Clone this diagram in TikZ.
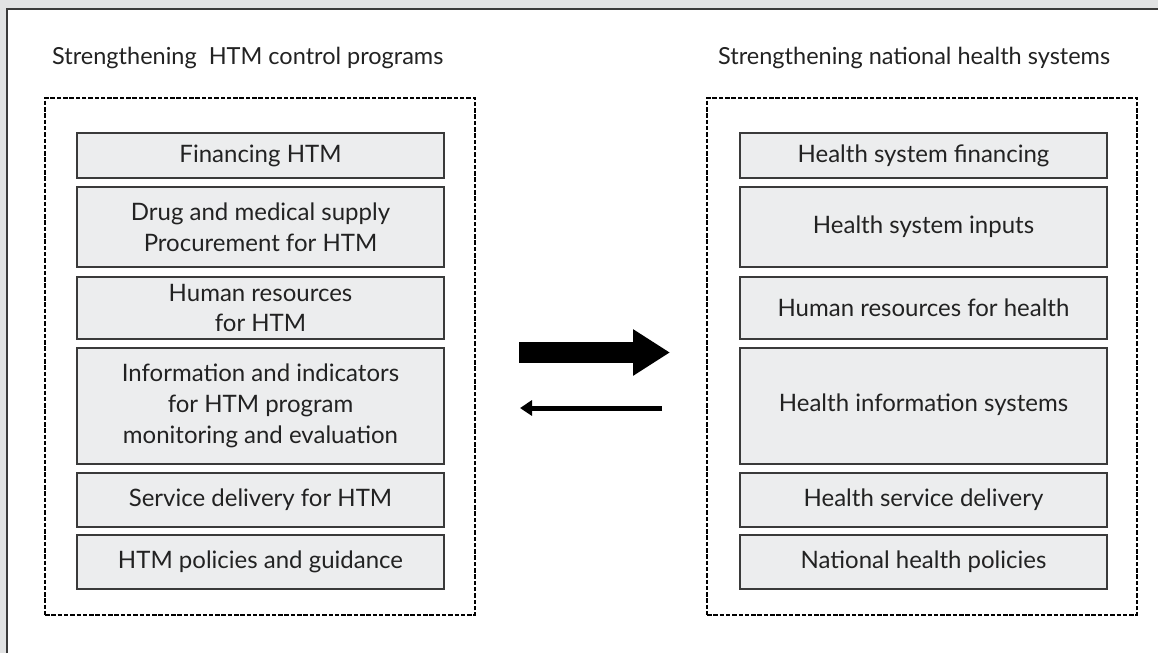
\documentclass[tikz,border=0pt]{standalone}
\usepackage{fontspec}
\setmainfont{Lato}
\usetikzlibrary{arrows.meta}
\definecolor{bandgray}{HTML}{E1E2E3}
\definecolor{boxgray}{HTML}{ECEDEE}
\definecolor{framecol}{HTML}{3A3A3A}
\definecolor{txt}{HTML}{222222}
\tikzset{
  itembox/.style={draw=framecol, line width=1.3pt, fill=boxgray, minimum width=367pt,
    inner sep=0pt, align=center, text=txt, font=\fontsize{24}{30.7}\selectfont},
  groupbox/.style={draw=black, line width=2.4pt, dash pattern=on 4.5pt off 1.8pt,
    minimum width=430pt, minimum height=517pt, inner sep=0pt},
  grouptitle/.style={anchor=base west, inner sep=0pt, text=txt, font=\fontsize{23.5}{28}\selectfont},
  bigarrow/.style={line width=21pt, -{Triangle[length=37pt,width=44pt]}},
  smallarrow/.style={line width=5pt, -{Triangle[length=12pt,width=15pt]}}
}
\begin{document}
\begin{tikzpicture}[x=1pt,y=-1pt]
\useasboundingbox (0,0) rectangle (1158,653);
\fill[bandgray] (0,0) rectangle (1158,653);
\fill[white] (7,9) rectangle (1158,653);
\draw[framecol, line width=1.5pt] (7,653) -- (7,9) -- (1158,9);

\node[grouptitle] (tl) at (52,64) {Strengthening\ \ HTM control programs};
\node[grouptitle] (tr) at (718,64) {Strengthening national health systems};

\node[groupbox] (L) at (260,356.5) {};
\node[groupbox] (R) at (922,356.5) {};

\node[itembox, minimum height=45pt]  (l1) at (260.5,155.5) {Financing HTM};
\node[itembox, minimum height=80pt]  (l2) at (260.5,227) {Drug and medical supply\\Procurement for HTM};
\node[itembox, minimum height=62pt]  (l3) at (260.5,308) {Human resources\\for HTM};
\node[itembox, minimum height=116pt] (l4) at (260.5,406) {Information and indicators\\for HTM program\\monitoring and evaluation};
\node[itembox, minimum height=54pt]  (l5) at (260.5,500) {Service delivery for HTM};
\node[itembox, minimum height=54pt]  (l6) at (260.5,562) {HTM policies and guidance};

\node[itembox, minimum height=45pt]  (r1) at (923.5,155.5) {Health system financing};
\node[itembox, minimum height=80pt]  (r2) at (923.5,227) {\raisebox{3pt}{Health system inputs}};
\node[itembox, minimum height=62pt]  (r3) at (923.5,308) {Human resources for health};
\node[itembox, minimum height=116pt] (r4) at (923.5,406) {\raisebox{7pt}{Health information systems}};
\node[itembox, minimum height=54pt]  (r5) at (923.5,500) {Health service delivery};
\node[itembox, minimum height=54pt]  (r6) at (923.5,562) {National health policies};

\coordinate (bs) at (519,352.5);
\coordinate (be) at (670,352.5);
\coordinate (ss) at (662,408);
\coordinate (se) at (520,408);
\draw[bigarrow] (bs) -- (be);
\draw[smallarrow] (ss) -- (se);
\end{tikzpicture}
\end{document}
